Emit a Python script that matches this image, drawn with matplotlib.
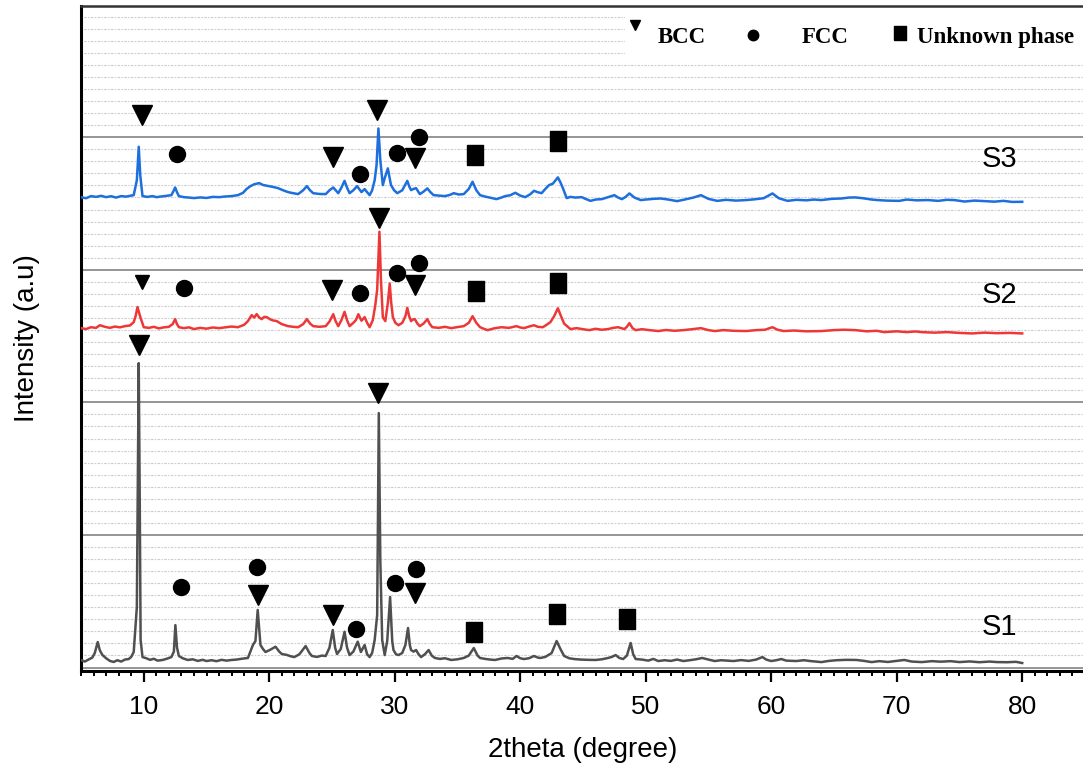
import numpy as np
import matplotlib.pyplot as plt
from matplotlib.ticker import MultipleLocator, NullFormatter
from matplotlib.path import Path
from matplotlib.patches import Rectangle

plt.rcParams['font.family'] = ['Liberation Sans', 'DejaVu Sans']

# XRD patterns: (2theta in degree, intensity in a.u., stacked)
s1 = [(5.0, 0.057), (5.3, 0.045), (5.6, 0.06), (5.9, 0.075), (6.1, 0.11), (6.33, 0.192),
      (6.5, 0.13), (6.7, 0.095), (7.0, 0.07), (7.3, 0.05), (7.6, 0.042), (7.9, 0.055),
      (8.2, 0.045), (8.5, 0.06), (8.8, 0.064), (9.0, 0.08), (9.2, 0.117), (9.45, 0.456),
      (9.55, 1.64), (9.6, 2.296), (9.68, 1.263), (9.75, 0.207), (9.9, 0.079), (10.2, 0.07),
      (10.5, 0.058), (10.8, 0.066), (11.1, 0.052), (11.5, 0.057), (11.8, 0.065), (12.2, 0.079),
      (12.4, 0.12), (12.52, 0.32), (12.65, 0.15), (12.8, 0.087), (13.1, 0.07), (13.5, 0.057),
      (13.9, 0.062), (14.3, 0.05), (14.7, 0.058), (15.0, 0.049), (15.4, 0.055), (15.8, 0.048),
      (16.2, 0.058), (16.6, 0.052), (17.0, 0.057), (17.4, 0.06), (17.8, 0.066), (18.3, 0.072),
      (18.7, 0.17), (18.9, 0.2), (19.08, 0.434), (19.3, 0.17), (19.5, 0.14), (19.7, 0.117),
      (20.0, 0.13), (20.5, 0.157), (20.8, 0.12), (21.0, 0.102), (21.4, 0.095), (21.7, 0.085),
      (22.0, 0.079), (22.4, 0.1), (22.9, 0.162), (23.2, 0.11), (23.4, 0.087), (23.8, 0.08),
      (24.2, 0.09), (24.5, 0.087), (24.8, 0.15), (25.06, 0.283), (25.25, 0.15), (25.4, 0.102),
      (25.7, 0.14), (26.0, 0.27), (26.2, 0.15), (26.4, 0.094), (26.7, 0.12), (27.05, 0.195),
      (27.3, 0.117), (27.6, 0.17), (27.8, 0.1), (28.0, 0.079), (28.2, 0.11), (28.4, 0.207),
      (28.6, 0.396), (28.73, 1.919), (28.85, 0.811), (29.0, 0.207), (29.2, 0.094), (29.4, 0.2),
      (29.63, 0.532), (29.8, 0.2), (29.9, 0.132), (30.1, 0.1), (30.3, 0.094), (30.6, 0.11),
      (30.85, 0.17), (31.06, 0.298), (31.2, 0.17), (31.3, 0.132), (31.5, 0.12), (31.7, 0.132),
      (31.9, 0.1), (32.1, 0.079), (32.4, 0.1), (32.7, 0.132), (32.95, 0.09), (33.2, 0.072),
      (33.6, 0.065), (34.0, 0.07), (34.5, 0.057), (35.0, 0.062), (35.5, 0.072), (35.9, 0.09),
      (36.3, 0.147), (36.6, 0.09), (36.8, 0.072), (37.2, 0.065), (37.6, 0.06), (38.0, 0.057),
      (38.5, 0.068), (39.0, 0.072), (39.4, 0.065), (39.7, 0.087), (40.0, 0.07), (40.3, 0.064),
      (40.7, 0.07), (41.1, 0.087), (41.4, 0.075), (41.6, 0.072), (42.0, 0.08), (42.5, 0.109),
      (42.9, 0.2), (43.2, 0.14), (43.5, 0.087), (43.9, 0.07), (44.3, 0.064), (44.8, 0.06),
      (45.4, 0.058), (46.0, 0.057), (46.5, 0.062), (47.0, 0.072), (47.3, 0.08), (47.6, 0.094),
      (47.9, 0.072), (48.2, 0.064), (48.5, 0.09), (48.8, 0.185), (49.0, 0.1), (49.2, 0.064),
      (49.7, 0.06), (50.2, 0.052), (50.6, 0.065), (51.0, 0.049), (51.5, 0.055), (52.0, 0.05),
      (52.5, 0.06), (53.0, 0.049), (53.5, 0.055), (54.0, 0.062), (54.5, 0.072), (55.0, 0.06),
      (55.5, 0.049), (56.0, 0.055), (56.5, 0.052), (57.0, 0.049), (57.6, 0.056), (58.2, 0.05),
      (58.8, 0.06), (59.3, 0.079), (59.6, 0.06), (60.0, 0.049), (60.4, 0.055), (60.8, 0.064),
      (61.2, 0.052), (62.0, 0.049), (62.6, 0.055), (63.2, 0.048), (64.0, 0.041), (64.6, 0.05),
      (65.2, 0.055), (66.0, 0.058), (66.8, 0.057), (67.4, 0.05), (68.0, 0.041), (68.6, 0.048),
      (69.3, 0.042), (70.0, 0.05), (70.6, 0.057), (71.2, 0.045), (72.0, 0.041), (72.8, 0.048),
      (73.5, 0.044), (74.3, 0.048), (75.0, 0.041), (75.8, 0.046), (76.6, 0.04), (77.4, 0.045),
      (78.0, 0.041), (78.8, 0.04), (79.5, 0.043), (80.0, 0.034)]

s2 = [(5.0, 2.56), (5.4, 2.553), (5.8, 2.567), (6.2, 2.562), (6.5, 2.582), (6.9, 2.57),
      (7.3, 2.562), (7.7, 2.572), (8.1, 2.566), (8.5, 2.575), (8.9, 2.58), (9.2, 2.605),
      (9.35, 2.65), (9.5, 2.719), (9.62, 2.68), (9.75, 2.636), (10.0, 2.567), (10.4, 2.562),
      (10.8, 2.57), (11.2, 2.558), (11.6, 2.566), (12.0, 2.57), (12.3, 2.59), (12.5, 2.628),
      (12.65, 2.59), (12.8, 2.567), (13.2, 2.56), (13.6, 2.566), (14.0, 2.553), (14.5, 2.562),
      (15.0, 2.556), (15.5, 2.565), (16.0, 2.56), (16.5, 2.566), (17.0, 2.572), (17.5, 2.567),
      (18.0, 2.585), (18.3, 2.613), (18.6, 2.658), (18.8, 2.64), (19.0, 2.666), (19.2, 2.64),
      (19.4, 2.628), (19.6, 2.645), (19.8, 2.643), (20.1, 2.625), (20.3, 2.618), (20.6, 2.613),
      (21.0, 2.59), (21.5, 2.575), (21.9, 2.57), (22.3, 2.567), (22.7, 2.59), (23.0, 2.628),
      (23.25, 2.595), (23.5, 2.575), (24.0, 2.57), (24.5, 2.575), (24.8, 2.61), (25.1, 2.665),
      (25.3, 2.61), (25.5, 2.575), (25.75, 2.62), (26.0, 2.683), (26.2, 2.62), (26.4, 2.575),
      (26.7, 2.6), (26.9, 2.62), (27.1, 2.665), (27.35, 2.616), (27.6, 2.643), (27.8, 2.6),
      (28.0, 2.567), (28.25, 2.62), (28.45, 2.733), (28.6, 2.851), (28.78, 3.287), (28.9, 2.926),
      (29.05, 2.643), (29.25, 2.613), (29.45, 2.75), (29.6, 2.897), (29.72, 2.75), (29.85, 2.643),
      (30.05, 2.6), (30.3, 2.582), (30.6, 2.6), (30.85, 2.65), (31.0, 2.713), (31.15, 2.65),
      (31.3, 2.613), (31.45, 2.625), (31.6, 2.628), (31.8, 2.595), (32.0, 2.575), (32.3, 2.595),
      (32.6, 2.628), (32.8, 2.59), (33.0, 2.567), (33.5, 2.562), (34.0, 2.57), (34.5, 2.56),
      (35.0, 2.568), (35.5, 2.575), (35.9, 2.6), (36.2, 2.65), (36.5, 2.6), (36.8, 2.567),
      (37.1, 2.555), (37.4, 2.545), (37.9, 2.558), (38.5, 2.567), (39.1, 2.562), (39.7, 2.575),
      (40.0, 2.565), (40.3, 2.56), (40.7, 2.572), (41.1, 2.582), (41.4, 2.57), (41.8, 2.567),
      (42.1, 2.585), (42.4, 2.605), (42.7, 2.65), (43.0, 2.71), (43.25, 2.65), (43.5, 2.594),
      (44.0, 2.553), (44.5, 2.56), (45.0, 2.552), (45.5, 2.545), (46.0, 2.555), (46.5, 2.548),
      (47.0, 2.553), (47.4, 2.562), (47.8, 2.567), (48.3, 2.553), (48.5, 2.57), (48.7, 2.598),
      (48.95, 2.56), (49.2, 2.545), (49.7, 2.552), (50.3, 2.545), (51.0, 2.538), (51.6, 2.546),
      (52.3, 2.54), (53.0, 2.545), (53.7, 2.552), (54.4, 2.56), (55.0, 2.545), (55.5, 2.538),
      (56.2, 2.545), (57.0, 2.54), (58.0, 2.538), (58.8, 2.545), (59.5, 2.548), (60.1, 2.567),
      (60.5, 2.548), (61.0, 2.538), (61.8, 2.542), (62.8, 2.536), (64.0, 2.538), (65.0, 2.545),
      (65.8, 2.548), (66.7, 2.545), (67.6, 2.536), (68.4, 2.54), (69.0, 2.53), (70.0, 2.536),
      (70.8, 2.53), (71.5, 2.535), (72.0, 2.53), (73.0, 2.526), (74.0, 2.53), (75.0, 2.524),
      (76.0, 2.52), (77.0, 2.526), (78.0, 2.522), (79.0, 2.524), (80.0, 2.52)]

s3 = [(5.0, 3.548), (5.4, 3.54), (5.8, 3.556), (6.2, 3.55), (6.6, 3.558), (7.0, 3.548),
      (7.4, 3.555), (7.8, 3.545), (8.2, 3.556), (8.6, 3.552), (9.0, 3.56), (9.2, 3.563),
      (9.45, 3.676), (9.6, 3.928), (9.72, 3.714), (9.9, 3.556), (10.3, 3.55), (10.7, 3.556),
      (11.0, 3.548), (11.4, 3.553), (11.8, 3.558), (12.2, 3.563), (12.35, 3.59), (12.5, 3.621),
      (12.65, 3.585), (12.8, 3.556), (13.2, 3.548), (13.6, 3.545), (14.0, 3.541), (14.5, 3.546),
      (15.0, 3.542), (15.5, 3.55), (16.0, 3.548), (16.5, 3.553), (17.0, 3.556), (17.5, 3.563),
      (17.9, 3.58), (18.2, 3.61), (18.5, 3.631), (18.8, 3.645), (19.2, 3.654), (19.5, 3.64),
      (20.0, 3.631), (20.3, 3.625), (20.7, 3.616), (21.1, 3.6), (21.5, 3.586), (21.9, 3.578),
      (22.3, 3.571), (22.7, 3.6), (23.0, 3.631), (23.25, 3.6), (23.5, 3.578), (24.0, 3.572),
      (24.5, 3.571), (24.8, 3.6), (25.1, 3.621), (25.3, 3.6), (25.5, 3.578), (25.75, 3.62),
      (26.0, 3.671), (26.2, 3.62), (26.4, 3.578), (26.7, 3.6), (27.0, 3.631), (27.35, 3.586),
      (27.6, 3.609), (27.8, 3.585), (28.0, 3.563), (28.2, 3.6), (28.4, 3.676), (28.55, 3.789),
      (28.7, 4.066), (28.85, 3.827), (29.05, 3.639), (29.2, 3.691), (29.45, 3.765), (29.7, 3.639),
      (29.95, 3.6), (30.2, 3.578), (30.6, 3.6), (31.0, 3.671), (31.15, 3.63), (31.3, 3.601),
      (31.5, 3.61), (31.7, 3.616), (32.0, 3.571), (32.3, 3.59), (32.6, 3.614), (32.85, 3.585),
      (33.1, 3.563), (33.5, 3.56), (34.0, 3.556), (34.4, 3.565), (34.7, 3.578), (35.1, 3.568),
      (35.5, 3.571), (35.9, 3.61), (36.2, 3.664), (36.5, 3.6), (36.8, 3.563), (37.1, 3.555),
      (37.4, 3.548), (37.8, 3.54), (38.1, 3.533), (38.5, 3.545), (38.8, 3.556), (39.2, 3.562),
      (39.6, 3.581), (40.0, 3.56), (40.4, 3.548), (40.8, 3.57), (41.1, 3.596), (41.4, 3.585),
      (41.7, 3.578), (42.0, 3.61), (42.3, 3.639), (42.6, 3.65), (43.0, 3.697), (43.2, 3.66),
      (43.4, 3.616), (43.7, 3.541), (44.0, 3.55), (44.4, 3.545), (44.9, 3.548), (45.2, 3.535),
      (45.6, 3.52), (46.0, 3.53), (46.5, 3.533), (47.0, 3.548), (47.5, 3.563), (47.8, 3.545),
      (48.1, 3.533), (48.4, 3.55), (48.7, 3.576), (49.1, 3.545), (49.6, 3.526), (50.0, 3.53),
      (50.6, 3.535), (51.2, 3.538), (51.8, 3.53), (52.5, 3.518), (53.1, 3.53), (53.8, 3.545),
      (54.4, 3.563), (55.0, 3.535), (55.7, 3.52), (56.4, 3.528), (57.2, 3.522), (58.0, 3.526),
      (58.7, 3.532), (59.4, 3.54), (60.1, 3.576), (60.6, 3.54), (61.3, 3.52), (62.0, 3.528),
      (62.8, 3.524), (63.4, 3.53), (64.0, 3.526), (64.8, 3.535), (65.6, 3.538), (66.2, 3.545),
      (66.7, 3.546), (67.3, 3.54), (68.0, 3.53), (68.5, 3.526), (69.2, 3.522), (70.2, 3.52),
      (70.8, 3.53), (71.6, 3.524), (72.5, 3.526), (73.3, 3.52), (74.0, 3.528), (74.6, 3.526),
      (75.4, 3.515), (76.2, 3.522), (77.0, 3.518), (77.8, 3.514), (78.5, 3.52), (79.2, 3.512),
      (80.0, 3.513)]

# phase markers (2theta, height of the symbol)
bcc = [(9.6, 2.432), (19.1, 0.547), (25.1, 0.396), (28.7, 2.071), (31.6, 0.562),
       (25.0, 2.847), (28.78, 3.39), (31.6, 2.885),
       (9.84, 4.167), (25.1, 3.852), (28.6, 4.205), (31.6, 3.842)]
bcc_small = [(9.87, 2.91)]
fcc = [(13.0, 0.607), (19.0, 0.758), (26.9, 0.29), (30.05, 0.637), (31.7, 0.743),
       (13.2, 2.864), (27.2, 2.822), (30.2, 2.975), (31.9, 3.048),
       (12.65, 3.87), (27.2, 3.722), (30.2, 3.88), (31.9, 3.999)]
unknown = [(36.3, 0.268), (42.9, 0.403), (48.5, 0.366),
           (36.5, 2.839), (43.0, 2.897),
           (36.4, 3.865), (43.0, 3.971)]

samples = ['S1', 'S2', 'S3']
label_y = [0.305, 2.81, 3.834]
colors = ['#505050', '#ee3838', '#1c6fdc']

fig = plt.figure(figsize=(10.83, 7.67), dpi=100)
ax = fig.add_axes([0.0748, 0.1252, 0.927, 0.867])

for data, c in zip([s1, s2, s3], colors):
    x, y = np.array(data).T
    ax.plot(x, y, color=c, lw=1.8, zorder=3)

rect = Path([(-0.42, -0.5), (0.42, -0.5), (0.42, 0.5), (-0.42, 0.5), (-0.42, -0.5)])

def marks(pts, marker, ms):
    x, y = np.array(pts).T
    ax.plot(x, y, ls='none', marker=marker, ms=ms, color='black', zorder=4)

marks(bcc, 'v', 14)
marks(bcc_small, 'v', 10)
marks(fcc, 'o', 11.5)
marks(unknown, rect, 13.7)

for name, yy in zip(samples, label_y):
    ax.text(78.2, yy, name, fontsize=21, ha='center', va='center', zorder=5)

# legend drawn by hand on a white patch
ax.add_patch(Rectangle((0.542, 0.919), 0.47, 0.085, transform=ax.transAxes,
                       facecolor='white', edgecolor='none', zorder=2))
ax.plot([0.5518], [0.971], transform=ax.transAxes, marker='v', ms=7, color='black', zorder=4)
ax.plot([0.669], [0.956], transform=ax.transAxes, marker='o', ms=7.5, color='black', zorder=4)
ax.plot([0.8157], [0.959], transform=ax.transAxes, marker=rect, ms=10.5, color='black', zorder=4)
for xx, t in [(0.5747, 'BCC'), (0.718, 'FCC'), (0.8327, 'Unknown phase')]:
    ax.text(xx, 0.953, t, transform=ax.transAxes, fontsize=16.5, fontweight='bold',
            family='Liberation Serif', ha='left', va='center', zorder=5)

ax.set_xlim(5, 85)
ax.set_ylim(-0.026, 4.99)

ax.xaxis.set_minor_locator(MultipleLocator(1))
ax.set_xticks(np.arange(10, 90, 10), [str(v) for v in range(10, 90, 10)])
ax.set_yticks([0, 1, 2, 3, 4])
ax.yaxis.set_minor_locator(MultipleLocator(1 / 11))
ax.yaxis.set_major_formatter(NullFormatter())
ax.tick_params(axis='x', which='major', direction='out', length=8, width=1.6,
               labelsize=19, pad=9)
ax.tick_params(axis='x', which='minor', direction='out', length=3.5, width=1.4)
ax.tick_params(axis='y', which='both', length=0)

ax.grid(axis='y', which='major', color='#8c8c8c', lw=1.3)
ax.grid(axis='y', which='minor', color='#cdcdcd', lw=0.8, ls=(0, (1.2, 1.2, 2.4, 1.2)))
ax.set_axisbelow(True)

ax.spines['right'].set_visible(False)
ax.spines['left'].set_linewidth(2.2)
ax.spines['bottom'].set_linewidth(2.2)
ax.spines['top'].set_linewidth(1.8)
ax.spines['top'].set_color('#333333')

ax.set_xlabel('2theta (degree)', fontsize=20)
ax.set_ylabel('Intensity (a.u)', fontsize=20)
ax.xaxis.set_label_coords(0.5, -0.1)
ax.yaxis.set_label_coords(-0.041, 0.5)

fig.savefig('out.png', dpi=100)
